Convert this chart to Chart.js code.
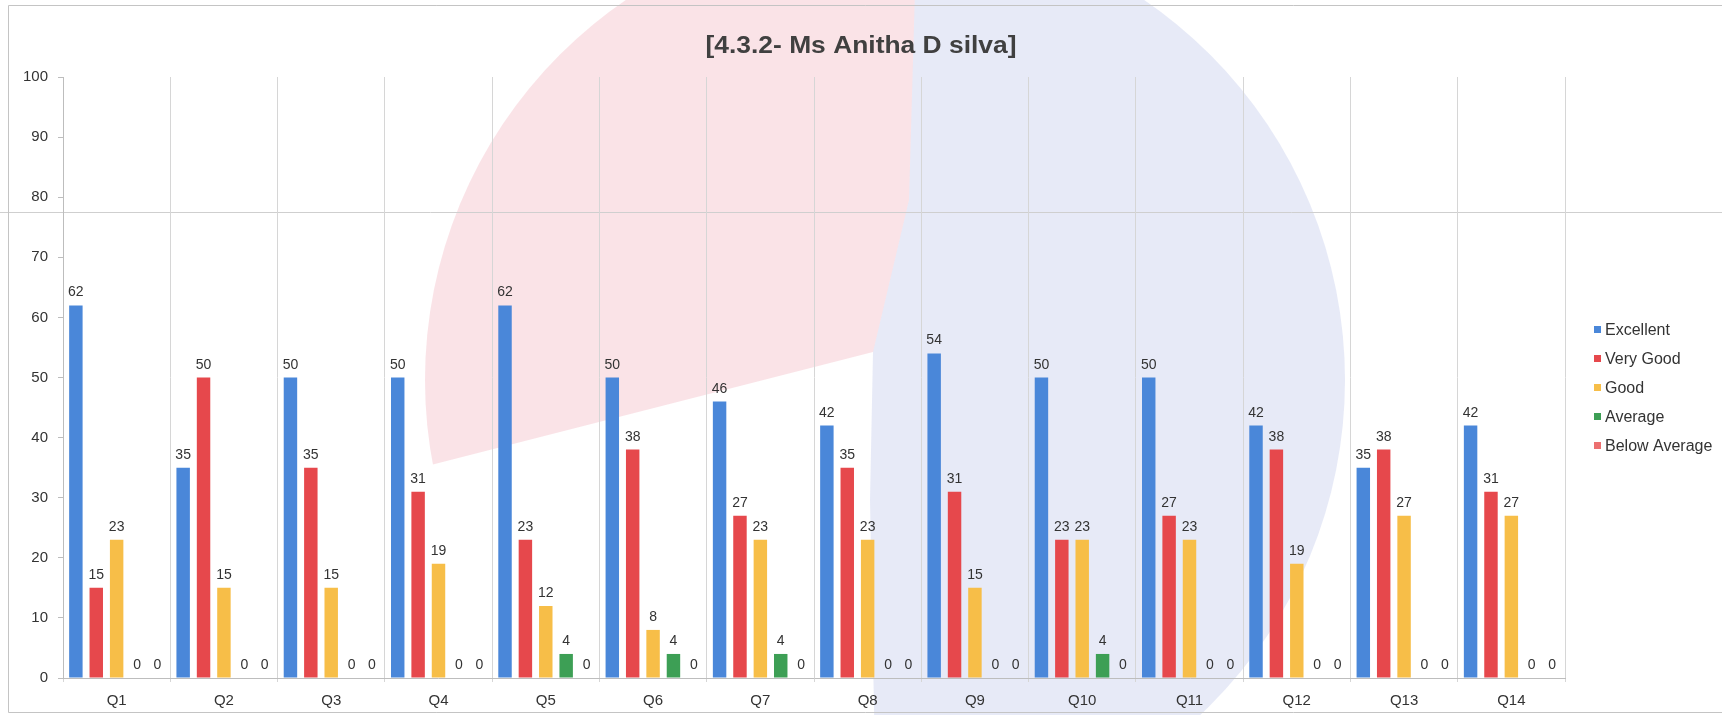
<!DOCTYPE html>
<html>
<head>
<meta charset="utf-8">
<script src="https://cdn.jsdelivr.net/npm/chart.js@4.4.1/dist/chart.umd.min.js"></script>
<style>
  html, body { margin: 0; padding: 0; background: #fff; }
  #wrap { width: 1722px; height: 715px; position: relative; }
</style>
</head>
<body>
<div id="wrap"><canvas id="feedbackChart"></canvas></div>
<script>
// chart data
const titleText = "[4.3.2- Ms Anitha D silva]";
const categories = ["Q1", "Q2", "Q3", "Q4", "Q5", "Q6", "Q7", "Q8", "Q9", "Q10", "Q11", "Q12", "Q13", "Q14"];
const seriesNames = ["Excellent", "Very Good", "Good", "Average", "Below Average"];
const excellent    = [62, 35, 50, 50, 62, 50, 46, 42, 54, 50, 50, 42, 35, 42];
const veryGood     = [15, 50, 35, 31, 23, 38, 27, 35, 31, 23, 27, 38, 38, 31];
const good         = [23, 15, 15, 19, 12, 8, 23, 23, 15, 23, 23, 19, 27, 27];
const average      = [0, 0, 0, 0, 4, 4, 4, 0, 0, 4, 0, 0, 0, 0];
const belowAverage = [0, 0, 0, 0, 0, 0, 0, 0, 0, 0, 0, 0, 0, 0];
const yMin = 0, yMax = 100, yStep = 10;

const seriesColors = ["#4a87d9", "#e6484c", "#f7be48", "#3d9f55", "#ec7070"];
const FONT = "'Liberation Sans', Arial, sans-serif";

document.addEventListener("DOMContentLoaded", function () {

    // faint scanned watermark + page border behind the chart
    const backdrop = {
        id: "backdrop",
        beforeDraw(chart) {
            const ctx = chart.ctx;
            const w = chart.width, h = chart.height;
            ctx.save();
            ctx.fillStyle = "#ffffff";
            ctx.fillRect(0, 0, w, h);

            const cx = 885, cy = 380, r = 460;
            ctx.beginPath();
            ctx.arc(cx, cy, r, 0, Math.PI * 2);
            ctx.clip();

            // red part, upper left
            ctx.fillStyle = "rgba(222, 70, 95, 0.15)";
            ctx.beginPath();
            ctx.moveTo(380, -10);
            ctx.lineTo(915, -10);
            ctx.lineTo(909, 200);
            ctx.lineTo(873, 352);
            ctx.lineTo(380, 478);
            ctx.closePath();
            ctx.fill();

            // blue part, right
            ctx.fillStyle = "rgba(70, 95, 195, 0.13)";
            ctx.beginPath();
            ctx.moveTo(915, -10);
            ctx.lineTo(1400, -10);
            ctx.lineTo(1400, 760);
            ctx.lineTo(875, 760);
            ctx.lineTo(870, 500);
            ctx.lineTo(873, 352);
            ctx.lineTo(909, 200);
            ctx.closePath();
            ctx.fill();
            ctx.restore();

            // scan fold line and frame
            ctx.save();
            ctx.strokeStyle = "#cfcfcf";
            ctx.lineWidth = 1;
            ctx.beginPath();
            ctx.moveTo(0, 212.5); ctx.lineTo(w, 212.5);
            ctx.stroke();
            ctx.strokeStyle = "#c4c4c4";
            ctx.beginPath();
            ctx.moveTo(w, 5.5); ctx.lineTo(8.5, 5.5); ctx.lineTo(8.5, 712.5); ctx.lineTo(w, 712.5);
            ctx.stroke();
            ctx.restore();
        }
    };

    // title, value labels and legend
    const decorations = {
        id: "decorations",
        afterDatasetsDraw(chart) {
            const ctx = chart.ctx;
            ctx.save();
            ctx.font = "14px " + FONT;
            ctx.fillStyle = "#333";
            ctx.textAlign = "center";
            ctx.textBaseline = "alphabetic";
            chart.data.datasets.forEach(function (ds, i) {
                const meta = chart.getDatasetMeta(i);
                meta.data.forEach(function (bar, j) {
                    ctx.fillText(String(ds.data[j]), bar.x, bar.y - 9);
                });
            });
            ctx.restore();
        },
        afterDraw(chart) {
            const ctx = chart.ctx;
            const area = chart.chartArea;
            ctx.save();
            // title is a little wide in the scan
            ctx.fillStyle = "#404040";
            ctx.font = "bold 24px " + FONT;
            ctx.textAlign = "center";
            ctx.textBaseline = "middle";
            ctx.translate(chart.width / 2, 46);
            ctx.scale(1.1, 1);
            ctx.fillText(titleText, 0, 0);
            ctx.restore();

            // legend on the right
            ctx.save();
            const rowH = 29;
            const n = chart.data.datasets.length;
            let y = (area.top + area.bottom) / 2 + 10 - rowH * (n - 1) / 2;
            const x = area.right + 29;
            ctx.font = "16px " + FONT;
            ctx.textAlign = "left";
            ctx.textBaseline = "middle";
            chart.data.datasets.forEach(function (ds) {
                ctx.fillStyle = ds.backgroundColor;
                ctx.fillRect(x, y - 3.5, 7, 7);
                ctx.fillStyle = "#333";
                ctx.fillText(ds.label, x + 11, y + 1);
                y += rowH;
            });
            ctx.restore();
        }
    };

    const seriesData = [excellent, veryGood, good, average, belowAverage];
    const datasets = seriesNames.map(function (name, i) {
        return {
            label: name,
            data: seriesData[i],
            backgroundColor: seriesColors[i],
            borderWidth: 0,
            categoryPercentage: 0.95,
            barPercentage: 0.66
        };
    });

    const ctx = document.getElementById("feedbackChart").getContext("2d");
    new Chart(ctx, {
        type: "bar",
        data: { labels: categories, datasets: datasets },
        options: {
            responsive: true,
            maintainAspectRatio: false,
            animation: false,
            layout: { padding: { left: 0, right: 157, top: 77, bottom: 5 } },
            plugins: {
                legend: { display: false },
                title: { display: false },
                tooltip: { enabled: false }
            },
            scales: {
                x: {
                    afterFit: function (scale) { scale.height = 32; },
                    grid: {
                        display: true,
                        offset: true,
                        color: "#d6d6d6",
                        tickLength: 4
                    },
                    border: { color: "#bdbdbd" },
                    ticks: {
                        color: "#333",
                        padding: 10,
                        font: { family: FONT, size: 15 }
                    }
                },
                y: {
                    min: yMin,
                    max: yMax,
                    afterFit: function (scale) { scale.width = 63; },
                    grid: {
                        drawOnChartArea: false,
                        drawTicks: true,
                        tickLength: 5,
                        color: "#bdbdbd"
                    },
                    border: { color: "#bdbdbd" },
                    ticks: {
                        stepSize: yStep,
                        color: "#333",
                        padding: 10,
                        font: { family: FONT, size: 15 }
                    }
                }
            }
        },
        plugins: [backdrop, decorations]
    });
});
</script>
</body>
</html>
